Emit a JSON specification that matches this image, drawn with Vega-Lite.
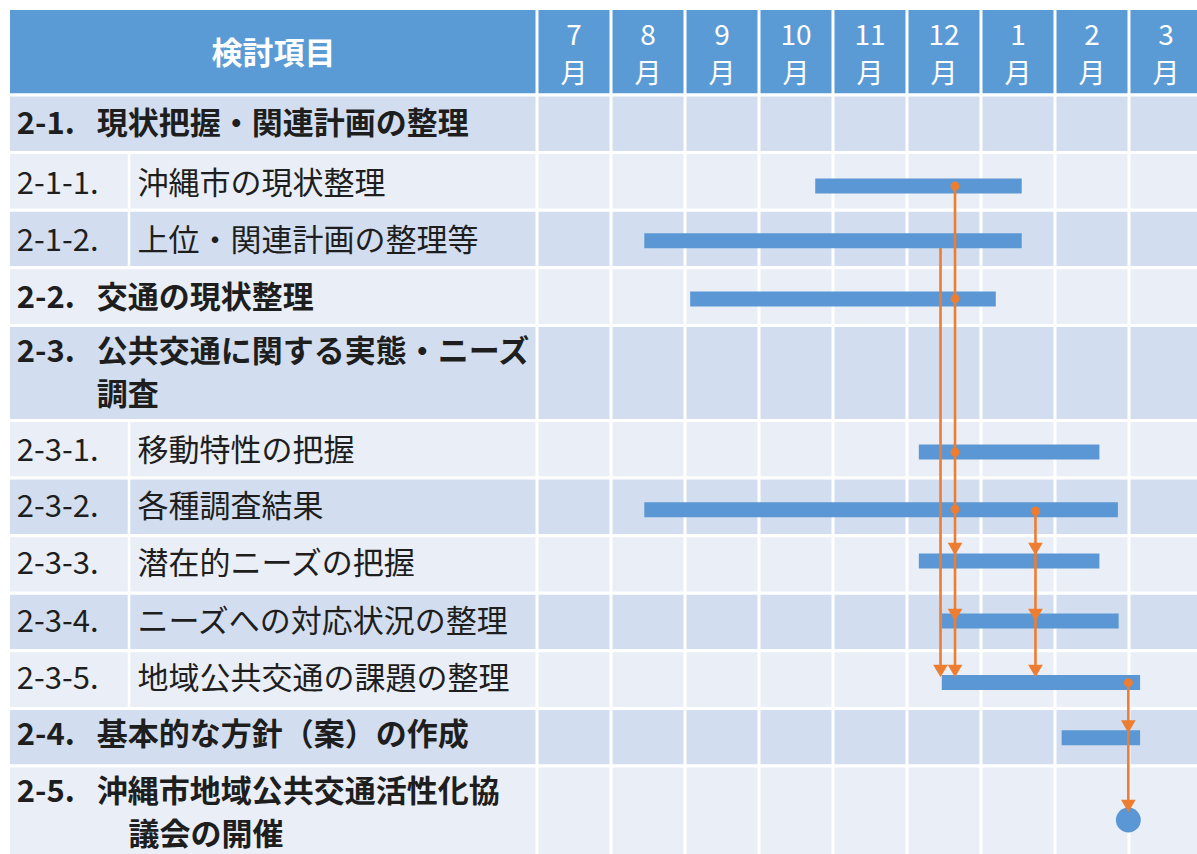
{
  "$schema": "https://vega.github.io/schema/vega-lite/v6.json",
  "width": 1197,
  "height": 854,
  "autosize": {"type": "none"},
  "padding": 0,
  "background": "white",
  "config": {"view": {"stroke": null}, "font": "Noto Sans CJK JP"},
  "datasets": {
    "header": [{"label": "検討項目"}],
    "months": [
      {"col": 0, "num": "7"}, {"col": 1, "num": "8"}, {"col": 2, "num": "9"},
      {"col": 3, "num": "10"}, {"col": 4, "num": "11"}, {"col": 5, "num": "12"},
      {"col": 6, "num": "1"}, {"col": 7, "num": "2"}, {"col": 8, "num": "3"}
    ],
    "rows": [
      {"no": "2-1.", "title": "現状把握・関連計画の整理", "title2": "", "level": "main", "band": "dark", "top": 0, "bottom": 1, "ty": 0.52},
      {"no": "2-1-1.", "title": "沖縄市の現状整理", "title2": "", "level": "sub", "band": "light", "top": 1, "bottom": 2, "ty": 1.56, "start": 3.76, "end": 6.55, "by": 1.58},
      {"no": "2-1-2.", "title": "上位・関連計画の整理等", "title2": "", "level": "sub", "band": "dark", "top": 2, "bottom": 3, "ty": 2.56, "start": 1.45, "end": 6.55, "by": 2.53},
      {"no": "2-2.", "title": "交通の現状整理", "title2": "", "level": "main", "band": "light", "top": 3, "bottom": 4, "ty": 3.55, "start": 2.07, "end": 6.2, "by": 3.54},
      {"no": "2-3.", "title": "公共交通に関する実態・ニーズ", "title2": "調査", "level": "main", "band": "dark", "top": 4, "bottom": 5.65, "ty": 4.48, "ty2": 5.22},
      {"no": "2-3-1.", "title": "移動特性の把握", "title2": "", "level": "sub", "band": "light", "top": 5.65, "bottom": 6.65, "ty": 6.19, "start": 5.16, "end": 7.6, "by": 6.2},
      {"no": "2-3-2.", "title": "各種調査結果", "title2": "", "level": "sub", "band": "dark", "top": 6.65, "bottom": 7.65, "ty": 7.17, "start": 1.45, "end": 7.85, "by": 7.2},
      {"no": "2-3-3.", "title": "潜在的ニーズの把握", "title2": "", "level": "sub", "band": "light", "top": 7.65, "bottom": 8.65, "ty": 8.16, "start": 5.16, "end": 7.6, "by": 8.09},
      {"no": "2-3-4.", "title": "ニーズへの対応状況の整理", "title2": "", "level": "sub", "band": "dark", "top": 8.65, "bottom": 9.65, "ty": 9.17, "start": 5.47, "end": 7.86, "by": 9.13},
      {"no": "2-3-5.", "title": "地域公共交通の課題の整理", "title2": "", "level": "sub", "band": "light", "top": 9.65, "bottom": 10.65, "ty": 10.15, "start": 5.47, "end": 8.15, "by": 10.2},
      {"no": "2-4.", "title": "基本的な方針（案）の作成", "title2": "", "level": "main", "band": "dark", "top": 10.65, "bottom": 11.65, "ty": 11.13, "start": 7.09, "end": 8.15, "by": 11.16},
      {"no": "2-5.", "title": "沖縄市地域公共交通活性化協", "title2": "議会の開催", "level": "main", "band": "light", "top": 11.65, "bottom": 13.3, "ty": 12.12, "ty2": 12.87}
    ],
    "links": [
      {"x": 5.649, "from": 1.58, "to": 10.0},
      {"x": 5.453, "from": 2.656, "to": 10.0},
      {"x": 6.736, "from": 7.22, "to": 10.0},
      {"x": 7.991, "from": 10.203, "to": 12.344}
    ],
    "dots": [
      {"x": 5.649, "y": 1.58}, {"x": 5.649, "y": 3.536}, {"x": 5.649, "y": 6.203},
      {"x": 5.649, "y": 7.193}, {"x": 6.736, "y": 7.222}, {"x": 7.991, "y": 10.203}
    ],
    "arrows": [
      {"x": 5.649, "y": 7.882}, {"x": 5.649, "y": 9.028}, {"x": 5.649, "y": 10.0},
      {"x": 5.453, "y": 10.0},
      {"x": 6.736, "y": 7.882}, {"x": 6.736, "y": 9.028}, {"x": 6.736, "y": 10.0},
      {"x": 7.991, "y": 10.967}, {"x": 7.991, "y": 12.344}
    ],
    "meeting": [{"x": 7.991, "y": 12.587}]
  },
  "layer": [
    {
      "data": {"name": "header"},
      "mark": {"type": "rect", "fill": "#5B9BD5", "stroke": "white", "strokeWidth": 3},
      "encoding": {
        "x": {"datum": -7.142, "type": "quantitative", "scale": {"domain": [-7.257, 8.919], "nice": false, "zero": false}, "axis": null},
        "x2": {"datum": 8.95},
        "y": {"datum": -1.5, "type": "quantitative", "scale": {"domain": [-1.649, 13.177], "reverse": true, "nice": false, "zero": false}, "axis": null},
        "y2": {"datum": 0}
      }
    },
    {
      "data": {"name": "rows"},
      "mark": {"type": "rect", "stroke": "white", "strokeWidth": 3},
      "encoding": {
        "x": {"datum": -7.142, "type": "quantitative", "scale": {"domain": [-7.257, 8.919], "nice": false, "zero": false}, "axis": null},
        "x2": {"datum": 8.95},
        "y": {"field": "top", "type": "quantitative", "scale": {"domain": [-1.649, 13.177], "reverse": true, "nice": false, "zero": false}, "axis": null},
        "y2": {"field": "bottom"},
        "fill": {"field": "band", "type": "nominal", "scale": {"domain": ["dark", "light"], "range": ["#D2DEEF", "#EAEFF7"]}, "legend": null}
      }
    },
    {
      "data": {"name": "months"},
      "mark": {"type": "rule", "color": "white", "strokeWidth": 3},
      "encoding": {
        "x": {"field": "col", "type": "quantitative", "scale": {"domain": [-7.257, 8.919], "nice": false, "zero": false}, "axis": null},
        "y": {"datum": -1.6, "type": "quantitative", "scale": {"domain": [-1.649, 13.177], "reverse": true, "nice": false, "zero": false}, "axis": null},
        "y2": {"datum": 13.3}
      }
    },
    {
      "data": {"name": "rows"},
      "transform": [{"filter": "datum.level == 'sub'"}],
      "mark": {"type": "rule", "color": "white", "strokeWidth": 2.5},
      "encoding": {
        "x": {"datum": -5.514, "type": "quantitative", "scale": {"domain": [-7.257, 8.919], "nice": false, "zero": false}, "axis": null},
        "y": {"field": "top", "type": "quantitative", "scale": {"domain": [-1.649, 13.177], "reverse": true, "nice": false, "zero": false}, "axis": null},
        "y2": {"field": "bottom"}
      }
    },
    {
      "data": {"name": "rows"},
      "transform": [{"filter": "isValid(datum.start)"}],
      "mark": {"type": "rule", "color": "#5A97D4", "strokeWidth": 15, "strokeCap": "butt"},
      "encoding": {
        "x": {"field": "start", "type": "quantitative", "scale": {"domain": [-7.257, 8.919], "nice": false, "zero": false}, "axis": null},
        "x2": {"field": "end"},
        "y": {"field": "by", "type": "quantitative", "scale": {"domain": [-1.649, 13.177], "reverse": true, "nice": false, "zero": false}, "axis": null}
      }
    },
    {
      "data": {"name": "meeting"},
      "mark": {"type": "point", "shape": "circle", "filled": true, "opacity": 1, "color": "#5A97D4", "size": 620},
      "encoding": {
        "x": {"field": "x", "type": "quantitative", "scale": {"domain": [-7.257, 8.919], "nice": false, "zero": false}, "axis": null},
        "y": {"field": "y", "type": "quantitative", "scale": {"domain": [-1.649, 13.177], "reverse": true, "nice": false, "zero": false}, "axis": null}
      }
    },
    {
      "data": {"name": "links"},
      "mark": {"type": "rule", "color": "#ED7D31", "strokeWidth": 2.6},
      "encoding": {
        "x": {"field": "x", "type": "quantitative", "scale": {"domain": [-7.257, 8.919], "nice": false, "zero": false}, "axis": null},
        "y": {"field": "from", "type": "quantitative", "scale": {"domain": [-1.649, 13.177], "reverse": true, "nice": false, "zero": false}, "axis": null},
        "y2": {"field": "to"}
      }
    },
    {
      "data": {"name": "arrows"},
      "mark": {"type": "point", "shape": "triangle-down", "filled": true, "opacity": 1, "color": "#ED7D31", "size": 215},
      "encoding": {
        "x": {"field": "x", "type": "quantitative", "scale": {"domain": [-7.257, 8.919], "nice": false, "zero": false}, "axis": null},
        "y": {"field": "y", "type": "quantitative", "scale": {"domain": [-1.649, 13.177], "reverse": true, "nice": false, "zero": false}, "axis": null}
      }
    },
    {
      "data": {"name": "dots"},
      "mark": {"type": "point", "shape": "circle", "filled": true, "opacity": 1, "color": "#ED7D31", "size": 80},
      "encoding": {
        "x": {"field": "x", "type": "quantitative", "scale": {"domain": [-7.257, 8.919], "nice": false, "zero": false}, "axis": null},
        "y": {"field": "y", "type": "quantitative", "scale": {"domain": [-1.649, 13.177], "reverse": true, "nice": false, "zero": false}, "axis": null}
      }
    },
    {
      "data": {"name": "header"},
      "mark": {"type": "text", "color": "white", "fontSize": 31, "fontWeight": "bold", "align": "center", "baseline": "middle"},
      "encoding": {
        "x": {"datum": -3.56, "type": "quantitative", "scale": {"domain": [-7.257, 8.919], "nice": false, "zero": false}, "axis": null},
        "y": {"datum": -0.69, "type": "quantitative", "scale": {"domain": [-1.649, 13.177], "reverse": true, "nice": false, "zero": false}, "axis": null},
        "text": {"field": "label"}
      }
    },
    {
      "data": {"name": "months"},
      "mark": {"type": "text", "color": "white", "fontSize": 28, "align": "center", "baseline": "middle", "dx": 37},
      "encoding": {
        "x": {"field": "col", "type": "quantitative", "scale": {"domain": [-7.257, 8.919], "nice": false, "zero": false}, "axis": null},
        "y": {"datum": -1.0, "type": "quantitative", "scale": {"domain": [-1.649, 13.177], "reverse": true, "nice": false, "zero": false}, "axis": null},
        "text": {"field": "num"}
      }
    },
    {
      "data": {"name": "months"},
      "mark": {"type": "text", "color": "white", "fontSize": 27, "align": "center", "baseline": "middle", "dx": 37},
      "encoding": {
        "x": {"field": "col", "type": "quantitative", "scale": {"domain": [-7.257, 8.919], "nice": false, "zero": false}, "axis": null},
        "y": {"datum": -0.35, "type": "quantitative", "scale": {"domain": [-1.649, 13.177], "reverse": true, "nice": false, "zero": false}, "axis": null},
        "text": {"value": "月"}
      }
    },
    {
      "data": {"name": "rows"},
      "transform": [{"filter": "datum.level == 'main'"}],
      "mark": {"type": "text", "color": "#1E1E1E", "fontSize": 31, "fontWeight": "bold", "align": "left", "baseline": "middle"},
      "encoding": {
        "x": {"datum": -7.03, "type": "quantitative", "scale": {"domain": [-7.257, 8.919], "nice": false, "zero": false}, "axis": null},
        "y": {"field": "ty", "type": "quantitative", "scale": {"domain": [-1.649, 13.177], "reverse": true, "nice": false, "zero": false}, "axis": null},
        "text": {"field": "no"}
      }
    },
    {
      "data": {"name": "rows"},
      "transform": [{"filter": "datum.level == 'main'"}],
      "mark": {"type": "text", "color": "#1E1E1E", "fontSize": 31, "fontWeight": "bold", "align": "left", "baseline": "middle"},
      "encoding": {
        "x": {"datum": -5.95, "type": "quantitative", "scale": {"domain": [-7.257, 8.919], "nice": false, "zero": false}, "axis": null},
        "y": {"field": "ty", "type": "quantitative", "scale": {"domain": [-1.649, 13.177], "reverse": true, "nice": false, "zero": false}, "axis": null},
        "text": {"field": "title"}
      }
    },
    {
      "data": {"name": "rows"},
      "transform": [{"filter": "datum.no == '2-3.'"}],
      "mark": {"type": "text", "color": "#1E1E1E", "fontSize": 31, "fontWeight": "bold", "align": "left", "baseline": "middle"},
      "encoding": {
        "x": {"datum": -5.95, "type": "quantitative", "scale": {"domain": [-7.257, 8.919], "nice": false, "zero": false}, "axis": null},
        "y": {"field": "ty2", "type": "quantitative", "scale": {"domain": [-1.649, 13.177], "reverse": true, "nice": false, "zero": false}, "axis": null},
        "text": {"field": "title2"}
      }
    },
    {
      "data": {"name": "rows"},
      "transform": [{"filter": "datum.no == '2-5.'"}],
      "mark": {"type": "text", "color": "#1E1E1E", "fontSize": 31, "fontWeight": "bold", "align": "left", "baseline": "middle"},
      "encoding": {
        "x": {"datum": -5.52, "type": "quantitative", "scale": {"domain": [-7.257, 8.919], "nice": false, "zero": false}, "axis": null},
        "y": {"field": "ty2", "type": "quantitative", "scale": {"domain": [-1.649, 13.177], "reverse": true, "nice": false, "zero": false}, "axis": null},
        "text": {"field": "title2"}
      }
    },
    {
      "data": {"name": "rows"},
      "transform": [{"filter": "datum.level == 'sub'"}],
      "mark": {"type": "text", "color": "#1E1E1E", "fontSize": 31, "align": "left", "baseline": "middle"},
      "encoding": {
        "x": {"datum": -7.03, "type": "quantitative", "scale": {"domain": [-7.257, 8.919], "nice": false, "zero": false}, "axis": null},
        "y": {"field": "ty", "type": "quantitative", "scale": {"domain": [-1.649, 13.177], "reverse": true, "nice": false, "zero": false}, "axis": null},
        "text": {"field": "no"}
      }
    },
    {
      "data": {"name": "rows"},
      "transform": [{"filter": "datum.level == 'sub'"}],
      "mark": {"type": "text", "color": "#1E1E1E", "fontSize": 31, "align": "left", "baseline": "middle"},
      "encoding": {
        "x": {"datum": -5.40, "type": "quantitative", "scale": {"domain": [-7.257, 8.919], "nice": false, "zero": false}, "axis": null},
        "y": {"field": "ty", "type": "quantitative", "scale": {"domain": [-1.649, 13.177], "reverse": true, "nice": false, "zero": false}, "axis": null},
        "text": {"field": "title"}
      }
    }
  ]
}
